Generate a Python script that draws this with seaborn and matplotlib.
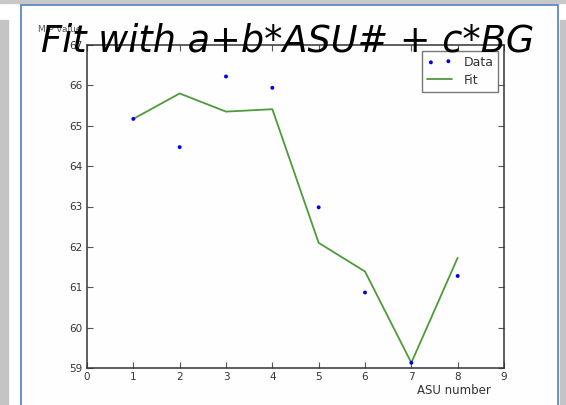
import numpy as np
import pandas as pd
import matplotlib
matplotlib.use("Agg")
import matplotlib.pyplot as plt
from matplotlib.patches import Rectangle
import seaborn as sns

asu = [1, 2, 3, 4, 5, 6, 7, 8]
mip_data = [65.17, 64.47, 66.22, 65.94, 62.98, 60.87, 59.13, 61.28]
mip_fit = [65.17, 65.80, 65.35, 65.41, 62.10, 61.39, 59.13, 61.73]
x_ticks = list(range(0, 10))
y_ticks = list(range(59, 68))

df = pd.DataFrame({"asu": asu, "data": mip_data, "fit": mip_fit})

sns.set_style("white")
plt.rcParams["font.family"] = ["DejaVu Sans"]

fig = plt.figure(figsize=(5.66, 4.05), dpi=100)
fig.patch.set_facecolor("white")

# slide decorations around the embedded plot
fig.patches.append(Rectangle((0, 1 - 3 / 405), 1, 3 / 405, transform=fig.transFigure,
                             color="#c8c8c8", zorder=-5))
fig.patches.append(Rectangle((0, 0), 8 / 566, 385 / 405, transform=fig.transFigure,
                             color="#c4c4c4", zorder=-5))
fig.patches.append(Rectangle((560 / 566, 0), 6 / 566, 385 / 405, transform=fig.transFigure,
                             color="#c4c4c4", zorder=-5))
fig.patches.append(Rectangle((20.5 / 566, -0.01), 537.5 / 566, 1.01 - 5 / 405,
                             transform=fig.transFigure, facecolor="#fefefe",
                             edgecolor="#4f7fbf", linewidth=1.2, zorder=-5))

ax = fig.add_axes([87 / 566, 37 / 405, 417 / 566, 323 / 405])
ax.set_zorder(2)
ax.set_facecolor("none")

sns.scatterplot(data=df, x="asu", y="data", ax=ax, color="#0000ee", s=8,
                edgecolor="none", label="Data", zorder=3)
sns.lineplot(data=df, x="asu", y="fit", ax=ax, color="#4f9a3c", linewidth=1.3,
             label="Fit", zorder=2)

ax.set_xlim(0, 9)
ax.set_ylim(59, 67)
ax.set_xticks(x_ticks)
ax.set_yticks(y_ticks)
ax.tick_params(direction="in", length=4, width=0.8, color="#555555",
               labelsize=7.5, labelcolor="#333333", top=True, right=True,
               bottom=True, left=True, pad=3)
for sp in ax.spines.values():
    sp.set_visible(True)
    sp.set_color("#333333")
    sp.set_linewidth(1.1)

ax.set_xlabel("ASU number", fontsize=8.5, color="#333333")
ax.xaxis.set_label_coords(0.88, -0.05)
ax.set_ylabel("MIP value", fontsize=6.5, color="#555555", rotation=0)
ax.yaxis.set_label_coords(-0.065, 1.035)

leg = ax.legend(loc="upper right", scatterpoints=2, fontsize=9, frameon=True,
                fancybox=False, borderaxespad=0.45, handlelength=2.0,
                handletextpad=0.9, borderpad=0.4, labelspacing=0.4)
leg.get_frame().set_edgecolor("#555555")
leg.get_frame().set_linewidth(1.0)
for t in leg.get_texts():
    t.set_color("#333333")

title = fig.text(0.509, 1 - 51 / 405, "Fit with a+b*ASU# + c*BG", fontsize=26.4,
                 style="oblique", family=["DejaVu Sans"],
                 ha="center", va="baseline", color="black")
title.set_zorder(10)

fig.savefig("out.png", dpi=100)
